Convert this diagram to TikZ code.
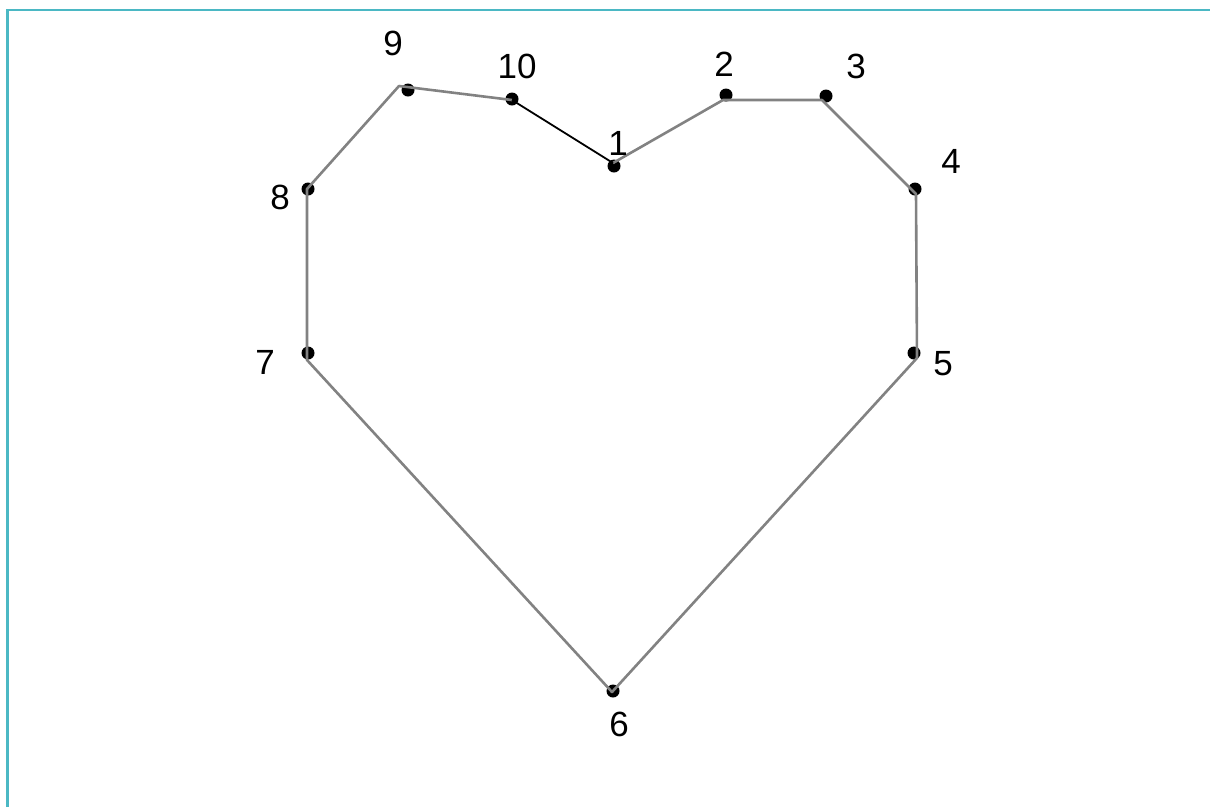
\documentclass[tikz,border=0pt]{standalone}
\usepackage{fontspec}
\setmainfont{Liberation Sans}
\begin{document}
\begin{tikzpicture}[x=1pt,y=-1pt,
  dotnode/.style={circle,fill=black,inner sep=0pt,minimum size=13pt},
  numlabel/.style={inner sep=0pt,font=\fontsize{35}{35}\selectfont,text=black},
  edgegray/.style={draw=edgegraycol,line width=2.6pt,line join=round},
  edgeblack/.style={draw=black,line width=1.8pt},
  frameline/.style={draw=frameteal,line width=2.4pt}]
\definecolor{frameteal}{HTML}{4BB8C4}
\definecolor{edgegraycol}{HTML}{828282}
\useasboundingbox (0,0) rectangle (1210,807);
% frame
\coordinate (fa) at (7.5,807);
\coordinate (fb) at (7.5,10);
\coordinate (fc) at (1210,10);
\draw[frameline] (fa) -- (fb) -- (fc);
% dots
\node[dotnode] (d1) at (614,166) {};
\node[dotnode] (d2) at (726,95) {};
\node[dotnode] (d3) at (826,96) {};
\node[dotnode] (d4) at (915,189) {};
\node[dotnode] (d5) at (914,353) {};
\node[dotnode] (d6) at (613,691) {};
\node[dotnode] (d7) at (308,353) {};
\node[dotnode] (d8) at (308,189) {};
\node[dotnode] (d9) at (408,90) {};
\node[dotnode] (d10) at (512,99) {};
% line vertices
\coordinate (l1) at (613,163);
\coordinate (l2) at (723,100);
\coordinate (l3) at (822,100);
\coordinate (l4) at (916,194);
\coordinate (l5) at (917,358);
\coordinate (l6) at (612,692);
\coordinate (l7) at (307,360);
\coordinate (l8) at (307,189);
\coordinate (l9) at (399,86);
\coordinate (l10) at (512,100);
% connectors
\draw[edgegray] (l1) -- (l2) -- (l3) -- (l4) -- (l5) -- (l6) -- (l7) -- (l8) -- (l9) -- (l10);
\draw[edgeblack] (l10) -- (l1);
% labels
\node[numlabel] (t1) at (618,143) {1};
\node[numlabel] (t2) at (724,64) {2};
\node[numlabel] (t3) at (856,66) {3};
\node[numlabel] (t4) at (951,161) {4};
\node[numlabel] (t5) at (943,364) {5};
\node[numlabel] (t6) at (619,724) {6};
\node[numlabel] (t7) at (265,362) {7};
\node[numlabel] (t8) at (280,197) {8};
\node[numlabel] (t9) at (393,43) {9};
\node[numlabel] (t10) at (517,66) {10};
\end{tikzpicture}
\end{document}
